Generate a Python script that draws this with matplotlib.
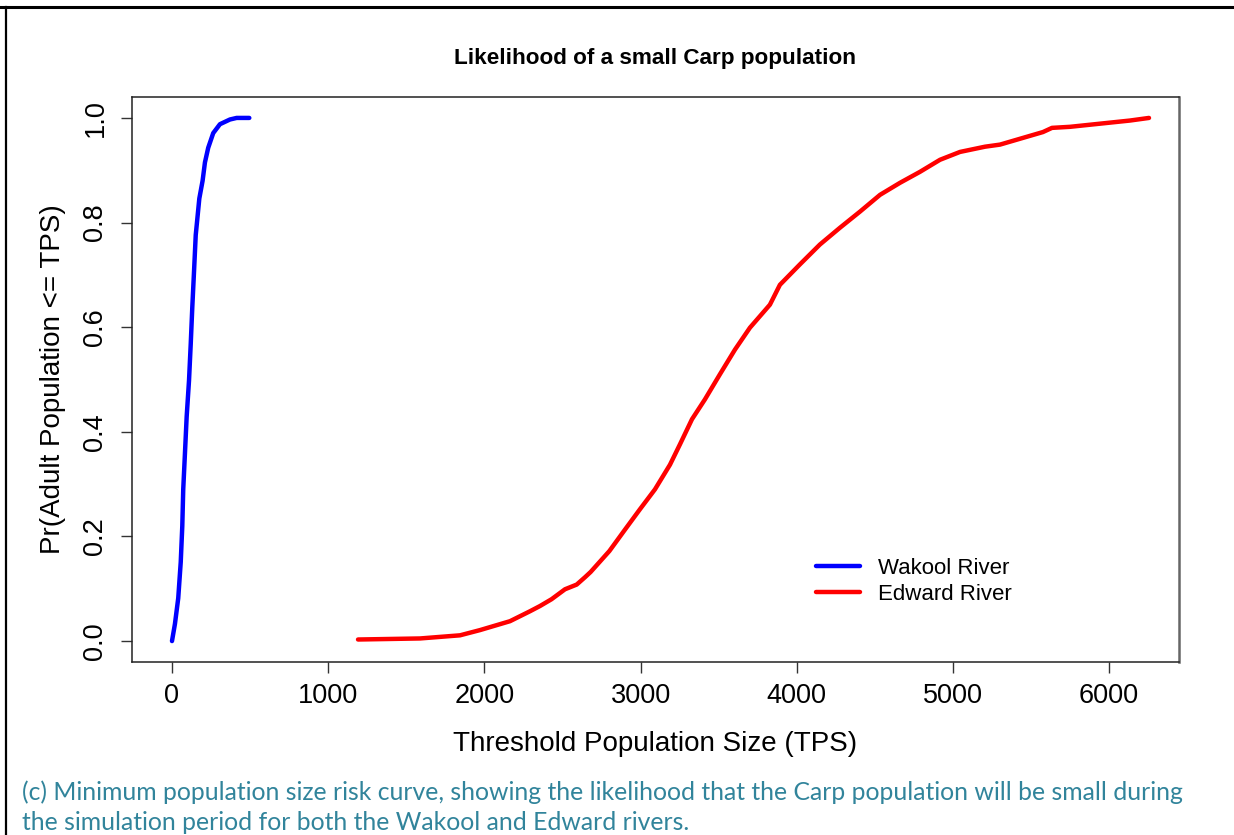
import numpy as np
import matplotlib
matplotlib.use("Agg")
import matplotlib.pyplot as plt
from matplotlib.lines import Line2D

# ── Data (TPS, cumulative probability) ───────────────────────────────────────
wakool_tps = [0, 19, 40, 56, 66, 72, 83, 94, 109, 120, 130, 141, 152, 175,
              196, 211, 232, 264, 307, 371, 414, 495]
wakool_pr = [0.0, 0.033, 0.082, 0.151, 0.220, 0.290, 0.359, 0.429, 0.498,
             0.568, 0.638, 0.706, 0.776, 0.846, 0.880, 0.915, 0.943, 0.971,
             0.988, 0.997, 1.0, 1.0]

edward_tps = [1191, 1588, 1844, 1972, 2164, 2292, 2356, 2430, 2516, 2591,
              2644, 2680, 2740, 2800, 2900, 2996, 3092, 3188, 3252, 3329,
              3412, 3508, 3604, 3700, 3828, 3892, 4020, 4148, 4276, 4405,
              4533, 4661, 4789, 4917, 5045, 5205, 5301, 5450, 5576, 5634,
              5749, 5941, 6133, 6255]
edward_pr = [0.003, 0.005, 0.011, 0.021, 0.038, 0.057, 0.067, 0.080, 0.099,
             0.108, 0.122, 0.132, 0.152, 0.172, 0.213, 0.252, 0.290, 0.337,
             0.376, 0.424, 0.462, 0.510, 0.557, 0.599, 0.643, 0.681, 0.720,
             0.758, 0.790, 0.821, 0.853, 0.876, 0.897, 0.920, 0.935, 0.945,
             0.949, 0.962, 0.973, 0.981, 0.983, 0.989, 0.995, 1.0]

series_names = ["Wakool River", "Edward River"]
x_ticks = [0, 1000, 2000, 3000, 4000, 5000, 6000]
y_ticks = [0.0, 0.2, 0.4, 0.6, 0.8, 1.0]

TEAL = "#31849B"
plt.rcParams["font.family"] = ["Liberation Sans", "DejaVu Sans"]

fig = plt.figure(figsize=(12.34, 8.35), dpi=100)
ax = fig.add_axes([132 / 1234, 1 - 662 / 835, (1179 - 132) / 1234, (662 - 97) / 835])

ax.plot(wakool_tps, wakool_pr, color="#0000FF", lw=3.2, solid_capstyle="round",
        label=series_names[0])
ax.plot(edward_tps, edward_pr, color="#FF0000", lw=3.2, solid_capstyle="round",
        label=series_names[1])

ax.set_xlim(-256, 6447)
ax.set_ylim(-0.04, 1.04)
ax.set_xticks(x_ticks)
ax.set_xticklabels([str(v) for v in x_ticks])
ax.set_yticks(y_ticks)
ax.set_yticklabels([f"{v:.1f}" for v in y_ticks], rotation=90, va="center")
ax.tick_params(axis="both", length=8, width=1, labelsize=19.5, color="#333333")
ax.tick_params(axis="x", pad=7)
ax.tick_params(axis="y", pad=9)
for sp in ax.spines.values():
    sp.set_linewidth(1.1)
    sp.set_color("#222222")
ax.spines["right"].set_color("#666666")
ax.spines["right"].set_linewidth(1.8)

ax.set_xlabel("Threshold Population Size (TPS)", fontsize=20, labelpad=16)
ax.set_ylabel("Pr(Adult Population <= TPS)", fontsize=20, labelpad=12)
ax.set_title("Likelihood of a small Carp population", fontsize=16.2,
             fontweight="bold", pad=24)

leg = ax.legend(loc="lower left", bbox_to_anchor=(0.645, 0.085), frameon=False,
                fontsize=16, handlelength=1.95, handletextpad=0.85,
                labelspacing=0.25, borderaxespad=0)

# ── Page border and caption ──────────────────────────────────────────────────
fig.add_artist(Line2D([0, 1], [1 - 7 / 835, 1 - 7 / 835], color="black", lw=2.2,
                      transform=fig.transFigure))
fig.add_artist(Line2D([6 / 1234, 6 / 1234], [0, 1 - 7 / 835], color="black", lw=1.6,
                      transform=fig.transFigure))

fig.text(22 / 1234, 1 - 792 / 835,
         "(c) Minimum population size risk curve, showing the likelihood that the Carp population will be small during",
         fontsize=17.8, color=TEAL, family=["Lato", "DejaVu Sans"], va="center", ha="left")
fig.text(22 / 1234, 1 - 822 / 835,
         "the simulation period for both the Wakool and Edward rivers.",
         fontsize=17.8, color=TEAL, family=["Lato", "DejaVu Sans"], va="center", ha="left")

fig.savefig("out.png", dpi=100, facecolor="white")
